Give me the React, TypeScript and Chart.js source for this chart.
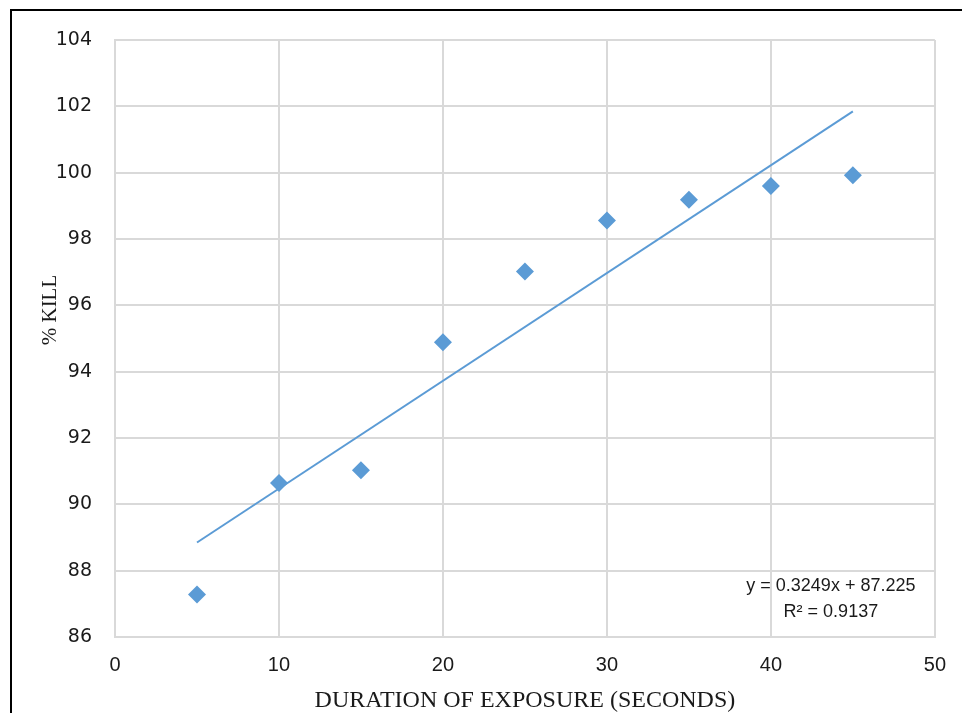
import React, { useEffect, useRef } from "react";
import { Chart, registerables } from "chart.js";

Chart.register(...registerables);

const durations = [5, 10, 15, 20, 25, 30, 35, 40, 45];
const killPercent = [87.28, 90.64, 91.03, 94.89, 97.02, 98.56, 99.18, 99.6, 99.92];
const trendSlope = 0.3249;
const trendIntercept = 87.225;
const trendRange = [5, 45];
const equationLines = ["y = 0.3249x + 87.225", "R² = 0.9137"];
const xTitle = "DURATION OF EXPOSURE (SECONDS)";
const yTitle = "% KILL";

const BLUE = "#5b9bd5";
const GRID = "#d9d9d9";
const TEXT = "#1a1a1a";

const overlayPlugin = {
  id: "overlayText",
  afterDraw(chart: any) {
    const { ctx, chartArea } = chart;
    ctx.save();
    ctx.fillStyle = TEXT;
    ctx.font = "21px 'Liberation Serif'";
    ctx.textAlign = "center";
    ctx.textBaseline = "middle";
    ctx.translate(50, 310);
    ctx.rotate(-Math.PI / 2);
    ctx.fillText(yTitle, 0, 0);
    ctx.restore();

    ctx.save();
    ctx.fillStyle = TEXT;
    ctx.font = "18px 'Liberation Sans'";
    ctx.textAlign = "center";
    ctx.textBaseline = "middle";
    const cx = chartArea.right - 104;
    ctx.fillText(equationLines[0], cx, 586);
    ctx.fillText(equationLines[1], cx, 612);
    ctx.restore();
  },
};

export default function App() {
  const canvasRef = useRef<HTMLCanvasElement>(null);

  useEffect(() => {
    document.body.style.margin = "0";
    const points = durations.map((d, i) => ({ x: d, y: killPercent[i] }));
    const trend = trendRange.map((x) => ({ x, y: trendSlope * x + trendIntercept }));
    const chart = new Chart(canvasRef.current!, {
      type: "scatter",
      data: {
        datasets: [
          {
            type: "line",
            data: trend,
            borderColor: BLUE,
            borderWidth: 2,
            pointRadius: 0,
            fill: false,
          } as any,
          {
            data: points,
            backgroundColor: BLUE,
            borderColor: BLUE,
            pointStyle: "rectRot",
            pointRadius: 9,
            pointBorderWidth: 0,
          } as any,
        ],
      },
      options: {
        animation: false,
        responsive: false,
        devicePixelRatio: 1,
        layout: { padding: { top: 40, right: 25, left: 0, bottom: 0 } },
        plugins: { legend: { display: false }, tooltip: { enabled: false } },
        scales: {
          x: {
            type: "linear",
            min: 0,
            max: 50,
            ticks: {
              stepSize: 10,
              padding: 16,
              color: TEXT,
              font: { family: "'Liberation Sans'", size: 20 },
            },
            grid: { color: GRID, lineWidth: 2, drawTicks: false },
            border: { color: GRID, width: 2 },
            title: {
              display: true,
              text: xTitle,
              color: TEXT,
              font: { family: "'Liberation Serif'", size: 24 },
              padding: { top: 0, bottom: -2 },
            },
            afterFit(scale: any) {
              scale.height = 76;
            },
          },
          y: {
            type: "linear",
            min: 86,
            max: 104,
            ticks: {
              stepSize: 2,
              padding: 23,
              color: TEXT,
              font: { family: "'DejaVu Sans'", size: 19 },
            },
            grid: { color: GRID, lineWidth: 2, drawTicks: false },
            border: { color: GRID, width: 2 },
            afterFit(scale: any) {
              scale.width = 115;
            },
          },
        },
      },
      plugins: [overlayPlugin],
    });
    return () => chart.destroy();
  }, []);

  return (
    <div style={{ position: "fixed", left: 0, top: 0, width: 962, height: 713, overflow: "hidden", background: "#fff" }}>
      <canvas ref={canvasRef} width={962} height={713} style={{ display: "block" }} />
      <div
        style={{
          position: "absolute",
          left: 10,
          top: 9,
          width: 2000,
          height: 2000,
          borderLeft: "2px solid #000",
          borderTop: "2px solid #000",
        }}
      />
    </div>
  );
}
